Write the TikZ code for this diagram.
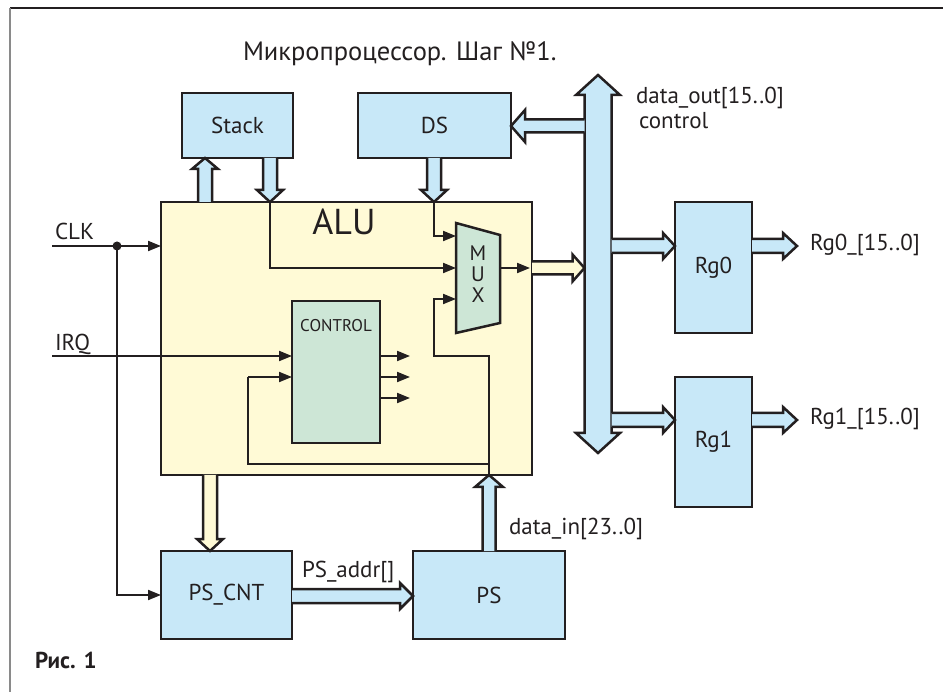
\documentclass[tikz,border=0pt]{standalone}
\usepackage{fontspec}
\setmainfont{PT Sans}
\usetikzlibrary{calc,arrows.meta}
\definecolor{ink}{HTML}{231F20}
\definecolor{blueF}{HTML}{C8E8F8}
\definecolor{yelF}{HTML}{FFFAD6}
\definecolor{grnF}{HTML}{CDE6D6}
\definecolor{frameG}{HTML}{8A8A8A}
\newcommand\lbl{\fontsize{23}{27}\selectfont}
\newcommand\fatarr[6]{%
  \path ($(#3)!#6!(#2)$) coordinate (fah);
  \draw[fatline, fill=#1] ($(#2)!#4!90:(#3)$) -- ($(fah)!#4!90:(#3)$) -- ($(fah)!#5!90:(#3)$) -- (#3) -- ($(fah)!#5!-90:(#3)$) -- ($(fah)!#4!-90:(#3)$) -- ($(#2)!#4!-90:(#3)$);
}
\newcommand\fatdbl[5]{%
  \path ($(#1)!#5!(#2)$) coordinate (fha) ($(#2)!#5!(#1)$) coordinate (fhb);
  \draw[fatline, fill=blueF] (#1) -- ($(fha)!#4!90:(#2)$) -- ($(fha)!#3!90:(#2)$) -- ($(fhb)!#3!-90:(#1)$) -- ($(fhb)!#4!-90:(#1)$) -- (#2) -- ($(fhb)!#4!90:(#1)$) -- ($(fhb)!#3!90:(#1)$) -- ($(fha)!#3!-90:(#2)$) -- ($(fha)!#4!-90:(#2)$) -- cycle;
}
\tikzset{
  blk/.style={draw=ink, line width=2.5pt, fill=blueF, rectangle, inner sep=0pt, outer sep=0pt, font=\lbl, text=ink},
  wire/.style={draw=ink, line width=2pt},
  warr/.style={wire, -{Triangle[length=13pt,width=10pt]}},
  fatline/.style={draw=ink, line width=2.5pt, line join=miter},
  txt/.style={inner sep=0pt, outer sep=0pt, anchor=base west, font=\lbl, text=ink},
}
\begin{document}
\begin{tikzpicture}[x=1pt,y=-1pt]
\useasboundingbox (0,0) rectangle (943,692);
% frame
\coordinate (fr0) at (10,8);
\coordinate (fr1) at (943,8);
\coordinate (fr2) at (10,692);
\draw[line width=2pt, ink] (fr0) -- (fr1);
\draw[line width=1.5pt, frameG] (fr0) -- (fr2);

% title
\node[txt, font=\fontsize{26.5}{30}\selectfont] (title) at (243,61) {Микропроцессор. Шаг №1.};

% ALU
\node[blk, fill=yelF, minimum width=371pt, minimum height=273pt] (alu) at (346.5,338.5) {};
\node[txt, anchor=center, font=\fontsize{36}{40}\selectfont] (alulbl) at (344,222) {ALU};

% CONTROL
\node[blk, fill=grnF, minimum width=88pt, minimum height=142pt] (ctrl) at (336,372) {};
\node[txt, anchor=center, font=\fontsize{17}{20}\selectfont] (ctrllbl) at (336,326) {CONTROL};

% MUX
\coordinate (m1) at (456,223);
\coordinate (m2) at (500,235);
\coordinate (m3) at (500,323);
\coordinate (m4) at (456,333);
\draw[line width=2.5pt, draw=ink, fill=grnF, line join=miter] (m1) -- (m2) -- (m3) -- (m4) -- cycle;
\node[txt, anchor=center, align=center, font=\fontsize{21}{21}\selectfont] (muxlbl) at (478,274) {M\\U\\X};
\coordinate (min1) at (456,236);
\coordinate (min2) at (456,268);
\coordinate (min3) at (456,299);
\coordinate (mout) at (500,268);
\coordinate (moutE) at (530,268);

% other boxes
\node[blk, minimum width=111pt, minimum height=65pt] (stack) at (237.5,125.5) {Stack};
\node[blk, minimum width=153pt, minimum height=65pt] (ds) at (434.5,125.5) {DS};
\node[blk, minimum width=77pt, minimum height=131pt] (rg0) at (713.5,267.5) {Rg0};
\node[blk, minimum width=77pt, minimum height=130pt] (rg1) at (713.5,442) {Rg1};
\node[blk, minimum width=131pt, minimum height=88pt] (pscnt) at (226.5,595) {PS\_CNT};
\node[blk, minimum width=152pt, minimum height=88pt] (ps) at (489,595) {PS};

% fat arrow end points
\coordinate (sua) at (205,0 |- alu.north);
\coordinate (sub) at (205,0 |- stack.south);
\coordinate (sda) at (270,0 |- stack.south);
\coordinate (sdb) at (270,0 |- alu.north);
\coordinate (dda) at (434,0 |- ds.south);
\coordinate (ddb) at (434,0 |- alu.north);
\coordinate (bt) at (598,75);
\coordinate (bb) at (598,453);
\coordinate (bda) at (584.5,126);
\coordinate (bdb) at (ds.east |- 0,126);
\coordinate (aba) at (alu.east |- 0,268);
\coordinate (abb) at (584.5,268);
\coordinate (r0a) at (611.5,246);
\coordinate (r0b) at (rg0.west |- 0,246);
\coordinate (r0c) at (rg0.east |- 0,246);
\coordinate (r0d) at (797,246);
\coordinate (r1a) at (611.5,420);
\coordinate (r1b) at (rg1.west |- 0,420);
\coordinate (r1c) at (rg1.east |- 0,420);
\coordinate (r1d) at (797,420);
\coordinate (apa) at (210,0 |- alu.south);
\coordinate (apb) at (210,0 |- pscnt.north);
\coordinate (paa) at (ps.north);
\coordinate (pab) at (ps.north |- alu.south);
\coordinate (ppa) at (pscnt.east |- 0,596);
\coordinate (ppb) at (ps.west |- 0,596);

% wires
\coordinate (clkin) at (52,246);
\coordinate (clkdot) at (117,246);
\coordinate (irqin) at (52,356);
\coordinate (fb1) at (434,356);
\coordinate (fb2) at (489,464);
\coordinate (fb3) at (248,377);
\draw[warr] (clkin) -- (alu.west |- clkin);
\fill[ink] (clkdot) circle (4.5pt);
\draw[warr] (clkdot) |- (pscnt.west);
\draw[warr] (irqin) -- (ctrl.west |- irqin);
\draw[warr] (sdb) |- (min2);
\draw[warr] (ddb) |- (min1);
\draw[warr] (pab) |- (fb1) |- (min3);
\draw[wire] (fb2) -| (fb3);
\draw[warr] (fb3) -- (fb3 -| ctrl.west);
\draw[warr] (mout) -- (moutE);
\coordinate (co1) at (410,356);
\coordinate (co2) at (410,377);
\coordinate (co3) at (410,398);
\draw[warr] (ctrl.east |- co1) -- (co1);
\draw[warr] (ctrl.east |- co2) -- (co2);
\draw[warr] (ctrl.east |- co3) -- (co3);

% fat arrows
\fatarr{blueF}{sua}{sub}{7pt}{13pt}{11pt}
\fatarr{blueF}{sda}{sdb}{7pt}{13pt}{12pt}
\fatarr{blueF}{dda}{ddb}{7pt}{13pt}{12pt}
\fatdbl{bt}{bb}{13.5pt}{22pt}{20pt}
\fatarr{blueF}{bda}{bdb}{6.5pt}{16pt}{14pt}
\fatarr{yelF}{aba}{abb}{6.5pt}{13.5pt}{12pt}
\fatarr{blueF}{r0a}{r0b}{7pt}{13pt}{12pt}
\fatarr{blueF}{r0c}{r0d}{7pt}{13pt}{14pt}
\fatarr{blueF}{r1a}{r1b}{7pt}{13pt}{12pt}
\fatarr{blueF}{r1c}{r1d}{7pt}{13pt}{14pt}
\fatarr{yelF}{apa}{apb}{7pt}{13pt}{12pt}
\fatarr{blueF}{paa}{pab}{6.5pt}{14pt}{12pt}
\fatarr{blueF}{ppa}{ppb}{7pt}{13pt}{13pt}

% labels
\node[txt] (clklbl) at (55,240) {CLK};
\node[txt] (irqlbl) at (55,351) {IRQ};
\node[txt] (dolbl) at (636,104) {data\_out[15..0]};
\node[txt] (ctllbl) at (639,129) {control};
\node[txt] (rg0lbl) at (810,251) {Rg0\_[15..0]};
\node[txt] (rg1lbl) at (810,425) {Rg1\_[15..0]};
\node[txt] (addrlbl) at (302,577) {PS\_addr[]};
\node[txt] (dinlbl) at (509,534) {data\_in[23..0]};
\node[txt, font=\fontsize{23}{26}\selectfont\bfseries] (fig) at (35,668) {Рис. 1};
\end{tikzpicture}
\end{document}
